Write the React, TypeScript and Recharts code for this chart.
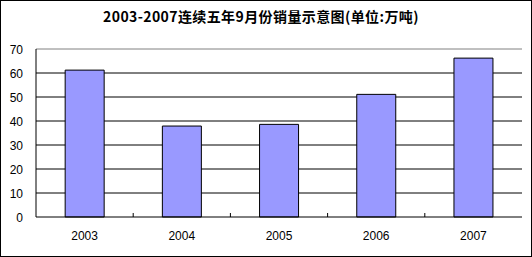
import React from "react";
import { BarChart, Bar, XAxis, YAxis, CartesianGrid, ReferenceLine } from "recharts";

const title = "2003-2007连续五年9月份销量示意图(单位:万吨)";
const years = ["2003", "2004", "2005", "2006", "2007"];
const sales = [61.2, 37.9, 38.6, 51.1, 66.2];
const yTicks = [0, 10, 20, 30, 40, 50, 60, 70];
const gridValues = [10, 20, 30, 40, 50, 60];

const data = years.map((y, i) => ({ year: y, value: sales[i] }));

const FONT = "'Liberation Sans', Arial, sans-serif";

const XTick = (props: any) => {
  const { x, y, payload, index, visibleTicksCount, width } = props;
  let half = payload && payload.offset ? payload.offset : 0;
  if (!half && width && visibleTicksCount) half = width / visibleTicksCount / 2;
  return (
    <g>
      {index < visibleTicksCount - 1 && (
        <line x1={x + half} x2={x + half} y1={y} y2={y - 4} stroke="#000" />
      )}
      <text x={x} y={y + 23} textAnchor="middle" fontSize={12} fontFamily={FONT} fill="#000">
        {payload.value}
      </text>
    </g>
  );
};

export default function App() {
  return (
    <div style={{ position: "absolute", left: 0, top: 0, width: 532, height: 257, background: "#fff" }}>
      <BarChart
        width={532}
        height={257}
        data={data}
        margin={{ top: 49, right: 10, left: 0, bottom: 0 }}
        barCategoryGap="30%"
      >
        <CartesianGrid horizontal={true} vertical={false} stroke="#000" horizontalValues={gridValues} />
        <XAxis
          dataKey="year"
          stroke="#000"
          tickLine={false}
          tickSize={0}
          tickMargin={0}
          height={40}
          tick={<XTick />}
          interval={0}
        />
        <YAxis
          domain={[0, 70]}
          ticks={yTicks}
          width={36}
          stroke="#000"
          tickLine={false}
          tickSize={0}
          tickMargin={13}
          interval={0}
          tick={{ fontSize: 12, fill: "#000", fontFamily: FONT, dy: 1 }}
        />
        <YAxis yAxisId="r" orientation="right" width={0} stroke="#808080" tick={false} tickLine={false} />
        <ReferenceLine y={70} stroke="#808080" />
        <Bar dataKey="value" fill="#9999FF" stroke="#000" strokeWidth={1} isAnimationActive={false} />
      </BarChart>
      <div
        style={{
          position: "absolute",
          left: 0,
          top: 7,
          width: 522,
          textAlign: "center",
          fontFamily: "'Noto Sans CJK SC', sans-serif",
          fontWeight: "bold",
          fontSize: 14,
          lineHeight: "18px",
          letterSpacing: "0.4px",
          color: "#000",
        }}
      >
        {title}
      </div>
      <div
        style={{
          position: "absolute",
          left: 0,
          top: 0,
          width: 532,
          height: 257,
          boxSizing: "border-box",
          border: "1px solid #000",
          pointerEvents: "none",
        }}
      />
    </div>
  );
}
